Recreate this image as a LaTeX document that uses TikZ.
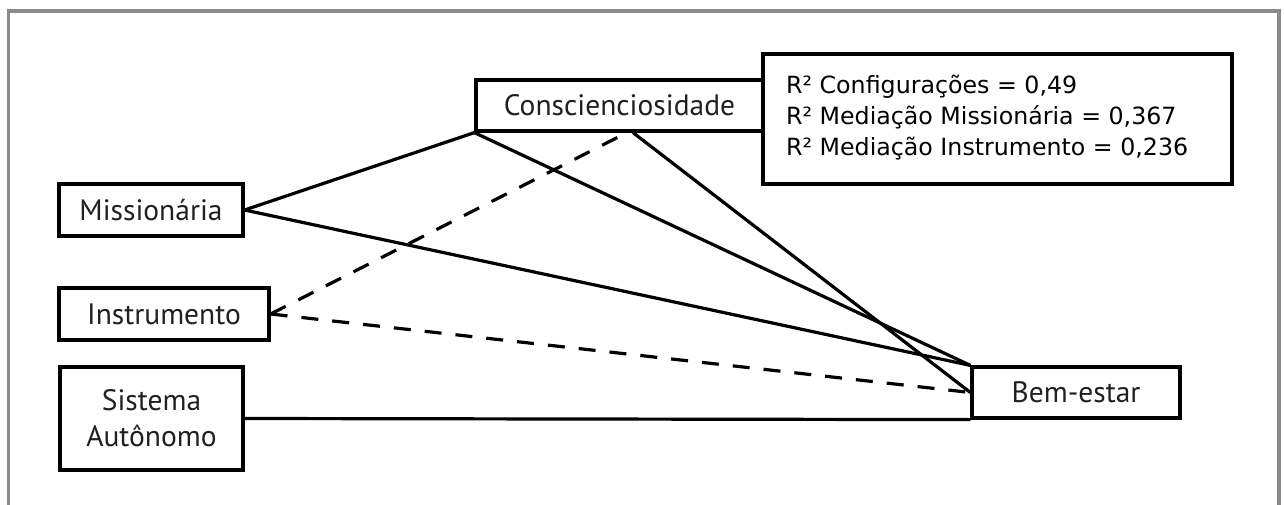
\documentclass[tikz,border=0pt]{standalone}
\usepackage{fontspec}
\setmainfont{PT Sans}
\newfontfamily\rfont{DejaVu Sans}
\usetikzlibrary{calc}
\definecolor{framegray}{HTML}{8A8A8A}
\definecolor{txt}{HTML}{231F20}
\begin{document}
\begin{tikzpicture}[x=1pt,y=-1pt,
  box/.style={draw=black, line width=3.2pt, rectangle, inner sep=0pt, font=\fontsize{29.5}{36}\selectfont, text=txt, align=center},
  link/.style={line width=3.2pt, draw=black},
  dlink/.style={link, dash pattern=on 17pt off 14pt}]
\useasboundingbox (0,0) rectangle (1284,505);
\draw[framegray, line width=3.5pt] (8.5,505) -- (8.5,11) -- (1279,11) -- (1279,505);
\node[box, minimum width=287pt, minimum height=51pt] (con) at (619.5,105.5) {Conscienciosidade};
\node[box, minimum width=184pt, minimum height=52pt] (mis) at (151,210) {Missionária};
\node[box, minimum width=210pt, minimum height=52pt] (ins) at (164,314) {Instrumento};
\node[box, minimum width=183pt, minimum height=103pt] (sa) at (151.5,418.5) {Sistema\\Autônomo};
\node[box, minimum width=208pt, minimum height=51pt] (be) at (1076,392.5) {Bem-estar};
\node[box, minimum width=469pt, minimum height=130pt] (r2b) at (997.5,119) {};
\node[anchor=north west, inner sep=0pt, align=left, text=black, font=\rfont\fontsize{23.7}{31}\selectfont] (r2) at (786,75) {R² Configurações = 0,49\\R² Mediação Missionária = 0,367\\R² Mediação Instrumento = 0,236};
\draw[link] (mis.east) -- (con.south west);
\draw[link] (mis.east) -- (be.north west);
\draw[link] (con.south west) -- (be.north west);
\draw[link] ([xshift=13.5pt]con.south) -- (be.west);
\draw[dlink] (ins.east) -- ([xshift=7.5pt]con.south);
\draw[dlink] (ins.east) -- (be.west);
\draw[link] (sa.east) -- (be.south west);
\end{tikzpicture}
\end{document}
